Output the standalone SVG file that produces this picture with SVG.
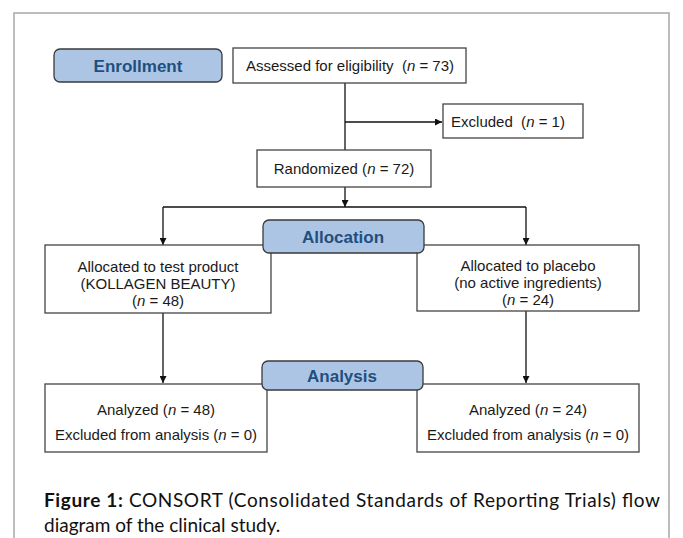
<svg xmlns="http://www.w3.org/2000/svg" width="683" height="538" viewBox="0 0 683 538">
<style>
.box{fill:#fff;stroke:#444;stroke-width:1.3}
.lbl{fill:#adc5e5;stroke:#3a3a3a;stroke-width:1.3}
.t{font-family:"Liberation Sans",Arial,sans-serif;font-size:15px;fill:#1a1a1a;text-anchor:middle}
.h{font-family:"Liberation Sans",Arial,sans-serif;font-size:17px;font-weight:bold;fill:#1f4f7e;text-anchor:middle}
.c{font-family:Lato,"Open Sans",sans-serif;font-size:19px;fill:#111}
.ln{fill:none;stroke:#111;stroke-width:1.3}
</style>
<defs>
<marker id="ar" viewBox="0 0 10 10" refX="10" refY="5" markerWidth="7" markerHeight="7" markerUnits="userSpaceOnUse" orient="auto">
<path d="M0,0 L10,5 L0,10 z" fill="#111"/>
</marker>
</defs>
<rect x="0" y="0" width="683" height="538" fill="#fff"/>
<path d="M14,540 L14,13 L669,13 L669,540" fill="none" stroke="#a8a8a8" stroke-width="1.5"/>

<g id="connectors">
<path class="ln" d="M345,83 L345,150"/>
<path class="ln" d="M345,122 L442,122" marker-end="url(#ar)"/>
<path class="ln" d="M345,187 L345,207" marker-end="url(#ar)"/>
<path class="ln" d="M163,207 L526,207"/>
<path class="ln" d="M163,207 L163,245" marker-end="url(#ar)"/>
<path class="ln" d="M526,207 L526,245" marker-end="url(#ar)"/>
<path class="ln" d="M163,313 L163,383" marker-end="url(#ar)"/>
<path class="ln" d="M526,311 L526,383" marker-end="url(#ar)"/>
</g>

<g id="enrollment">
<rect class="lbl" x="54" y="49" width="168" height="33" rx="6"/>
<text class="h" x="138" y="72">Enrollment</text>
</g>
<g id="assessed">
<rect class="box" x="233" y="48" width="233" height="35"/>
<text class="t" x="350" y="71" xml:space="preserve">Assessed for eligibility  (<tspan font-style="italic">n</tspan> = 73)</text>
</g>
<g id="excluded">
<rect class="box" x="443" y="104" width="140" height="34"/>
<text class="t" x="508" y="127" xml:space="preserve">Excluded  (<tspan font-style="italic">n</tspan> = 1)</text>
</g>
<g id="randomized">
<rect class="box" x="257" y="150" width="174" height="37"/>
<text class="t" x="344" y="174">Randomized (<tspan font-style="italic">n</tspan> = 72)</text>
</g>

<g id="alloc-test">
<rect class="box" x="45" y="245" width="226" height="68"/>
<text class="t" x="158" y="272">Allocated to test product</text>
<text class="t" x="158" y="289">(KOLLAGEN BEAUTY)</text>
<text class="t" x="158" y="306">(<tspan font-style="italic">n</tspan> = 48)</text>
</g>
<g id="alloc-placebo">
<rect class="box" x="417" y="245" width="222" height="66"/>
<text class="t" x="528" y="271">Allocated to placebo</text>
<text class="t" x="528" y="288">(no active ingredients)</text>
<text class="t" x="528" y="305">(<tspan font-style="italic">n</tspan> = 24)</text>
</g>
<g id="allocation">
<rect class="lbl" x="263" y="220" width="161" height="33" rx="6"/>
<text class="h" x="343" y="243">Allocation</text>
</g>

<g id="analyzed-test">
<rect class="box" x="45" y="384" width="222" height="68"/>
<text class="t" x="156" y="415">Analyzed (<tspan font-style="italic">n</tspan> = 48)</text>
<text class="t" x="156" y="440">Excluded from analysis (<tspan font-style="italic">n</tspan> = 0)</text>
</g>
<g id="analyzed-placebo">
<rect class="box" x="417" y="384" width="222" height="68"/>
<text class="t" x="528" y="415">Analyzed (<tspan font-style="italic">n</tspan> = 24)</text>
<text class="t" x="528" y="440">Excluded from analysis (<tspan font-style="italic">n</tspan> = 0)</text>
</g>
<g id="analysis">
<rect class="lbl" x="262" y="361" width="161" height="29" rx="6"/>
<text class="h" x="342" y="382">Analysis</text>
</g>

<g id="caption">
<text class="c" x="44" y="507" textLength="616" lengthAdjust="spacing"><tspan font-weight="bold">Figure 1:</tspan> CONSORT (Consolidated Standards of Reporting Trials) flow</text>
<text class="c" x="44" y="532">diagram of the clinical study.</text>
</g>
</svg>
